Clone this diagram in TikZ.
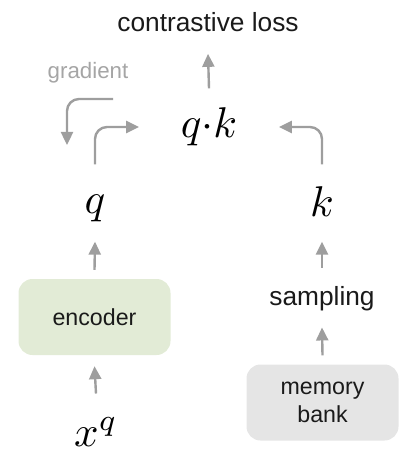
\documentclass[tikz,border=0pt]{standalone}
\usepackage{graphicx}
\usepackage{fontspec}
\setmainfont{Liberation Sans}
\usetikzlibrary{arrows.meta}
\definecolor{arrgray}{RGB}{158,158,158}
\definecolor{txtgray}{RGB}{165,165,165}
\definecolor{encgreen}{RGB}{226,235,214}
\definecolor{memgray}{RGB}{229,229,229}
\definecolor{txtblack}{RGB}{26,26,26}
\newcommand{\bigmath}[1]{\scalebox{4.3}{$#1$}}
\begin{document}
\begin{tikzpicture}[x=1pt,y=-1pt,
  arr/.style={draw=arrgray, line width=2.4pt, -{Triangle[length=13pt,width=12pt]}, rounded corners=12pt},
  lbl/.style={inner sep=0pt, text=txtblack, font=\fontsize{26.3}{31}\selectfont},
  mth/.style={inner sep=0pt, text=black},
  box/.style={rounded corners=14pt, minimum width=152pt, minimum height=76pt, inner sep=0pt,
    text=txtblack, font=\fontsize{23.2}{27.5}\selectfont, align=center}]
\useasboundingbox (0,0) rectangle (415,454);
% nodes
\node[lbl] (loss) at (208,22) {contrastive loss};
\node[mth] (qk) at (209,127) {\bigmath{q{\cdot}k}};
\node[mth] (q) at (95,208) {\bigmath{q}};
\node[mth] (k) at (322,201.5) {\bigmath{k}};
\node[box, fill=encgreen] (enc) at (94.5,317) {encoder};
\node[box, fill=memgray] (mem) at (322.5,402.5) {memory\\bank};
\node[lbl] (samp) at (322,299) {sampling};
\node[mth] (xq) at (96,432) {\bigmath{x^q}};
\node[inner sep=0pt, text=txtgray, font=\fontsize{22.3}{26}\selectfont] (grad) at (88,73) {gradient};
\coordinate (g1) at (113,99);
\coordinate (g2) at (67,145);
% connectors
\draw[arr] ([yshift=19.4pt]qk.north) -- ([yshift=-22pt]loss.south);
\draw[arr] ([yshift=30pt]q.north) |- ([xshift=-41.5pt]qk.west);
\draw[arr] ([yshift=22pt]k.north) |- ([xshift=41.5pt]qk.east);
\draw[arr] (g1) -| (g2);
\draw[arr] ([yshift=9pt]enc.north) -- ([yshift=-20pt]q.south);
\draw[arr] ([yshift=24pt]xq.north) -- ([yshift=-11pt]enc.south);
\draw[arr] ([yshift=9pt]mem.north) -- ([yshift=-16pt]samp.south);
\draw[arr] ([yshift=19pt]samp.north) -- ([yshift=-25pt]k.south);
\end{tikzpicture}
\end{document}
